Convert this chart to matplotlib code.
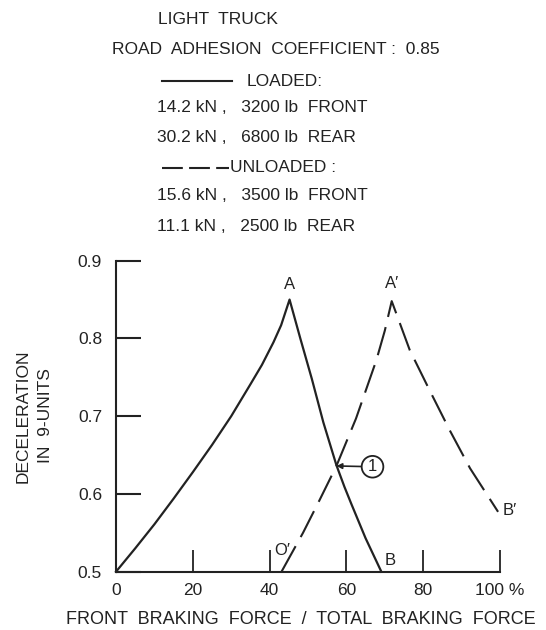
import matplotlib
matplotlib.use("Agg")
import matplotlib.pyplot as plt
from matplotlib.lines import Line2D

plt.rcParams['font.family'] = ['Liberation Sans', 'DejaVu Sans']

# loaded truck: O - A - B (solid)
loaded_x = [0, 5, 10, 15, 20, 25, 30, 35, 38, 41, 43, 45.2,
            48, 51, 54, 57.4, 59.5, 61.3, 65.0, 69.1]
loaded_y = [0.5, 0.53, 0.561, 0.594, 0.628, 0.663, 0.70, 0.741, 0.766, 0.795, 0.817, 0.85,
            0.80, 0.748, 0.692, 0.637, 0.609, 0.587, 0.543, 0.5]

# unloaded truck: O' - A' - B' (dashed)
unloaded_x = [43.1, 48.7, 53, 57.4, 62.5, 67.8, 70, 71.8, 76.5, 81.7, 86.9, 92.2, 99.5]
unloaded_y = [0.5, 0.55, 0.592, 0.636, 0.697, 0.772, 0.81, 0.848, 0.785, 0.733, 0.682, 0.633, 0.577]

x_ticks = [0, 20, 40, 60, 80, 100]
x_tick_labels = ['0', '20', '40', '60', '80', '100 %']
y_ticks = [0.5, 0.6, 0.7, 0.8, 0.9]
y_tick_labels = ['0.5', '0.6', '0.7', '0.8', '0.9']

point_names = ['A', 'B', 'A′', 'B′', 'O′']
point_x = [45.2, 71.5, 71.8, 102.5, 43.3]
point_y = [0.869, 0.515, 0.871, 0.579, 0.527]

# intersection marked (1)
cross_x, cross_y = 57.4, 0.636

header = ['LIGHT  TRUCK', 'ROAD  ADHESION  COEFFICIENT :  0.85']
loaded_text = ['LOADED:', '14.2 kN ,   3200 lb  FRONT', '30.2 kN ,   6800 lb  REAR']
unloaded_text = ['UNLOADED :', '15.6 kN ,   3500 lb  FRONT', '11.1 kN ,   2500 lb  REAR']

W, H = 546, 630
ink = '#222222'


def px(x, y):
    # pixel position (from top-left) -> figure fraction
    return x / W, 1 - y / H


fig = plt.figure(figsize=(W / 100, H / 100), dpi=100)
ax = fig.add_axes([116 / W, 58.3 / H, 384 / W, 311 / H])

ax.plot(loaded_x, loaded_y, color=ink, lw=1.6, clip_on=False)
ax.plot(unloaded_x, unloaded_y, color=ink, lw=1.5, dashes=(14, 5), clip_on=False)

ax.set_xlim(0, 100)
ax.set_ylim(0.5, 0.9)
ax.set_xticks(x_ticks)
ax.set_xticklabels(x_tick_labels)
ax.set_yticks(y_ticks)
ax.set_yticklabels(y_tick_labels)

for s in ['top', 'right']:
    ax.spines[s].set_visible(False)
for s in ['left', 'bottom']:
    ax.spines[s].set_linewidth(1.5)
    ax.spines[s].set_color(ink)

ax.tick_params(axis='y', direction='in', length=18, width=1.5, pad=10, labelsize=12.5, colors=ink)
ax.tick_params(axis='x', direction='in', length=16, width=1.3, pad=8, labelsize=12.5, colors=ink)

for name, x, y in zip(point_names, point_x, point_y):
    ax.text(x, y, name, ha='center', va='center', fontsize=12, color=ink)

ax.annotate('1', xy=(cross_x, cross_y), xytext=(66.8, 0.635), ha='center', va='center',
            fontsize=12, color=ink,
            bbox=dict(boxstyle='circle,pad=0.2', fc='white', ec=ink, lw=1.3),
            arrowprops=dict(arrowstyle='-|>', color=ink, lw=1.2, mutation_scale=8,
                            shrinkA=0, shrinkB=0))

# axis titles
fig.text(*px(301, 619), 'FRONT  BRAKING  FORCE  /  TOTAL  BRAKING  FORCE',
         fontsize=13, ha='center', va='center', color=ink)
fig.text(*px(34, 416), 'DECELERATION\nIN  9-UNITS', fontsize=12.5, rotation=90,
         ha='center', va='center', multialignment='center', linespacing=1.6, color=ink)

# header block
fs = 12.5
fig.text(*px(158, 20), header[0], fontsize=fs, va='center', color=ink)
fig.text(*px(112, 49), header[1], fontsize=fs, va='center', color=ink)

fig.add_artist(Line2D([162 / W, 232 / W], [1 - 81 / H] * 2, color=ink, lw=1.5))
fig.text(*px(247, 81), loaded_text[0], fontsize=fs, va='center', color=ink)
fig.text(*px(157, 108), loaded_text[1], fontsize=fs, va='center', color=ink)
fig.text(*px(157, 137), loaded_text[2], fontsize=fs, va='center', color=ink)

fig.add_artist(Line2D([162 / W, 229 / W], [1 - 168 / H] * 2, color=ink, lw=1.5,
                      dashes=(10, 3)))
fig.text(*px(230, 168), unloaded_text[0], fontsize=fs, va='center', color=ink)
fig.text(*px(157, 196), unloaded_text[1], fontsize=fs, va='center', color=ink)
fig.text(*px(157, 226), unloaded_text[2], fontsize=fs, va='center', color=ink)

fig.savefig('out.png', dpi=100)
